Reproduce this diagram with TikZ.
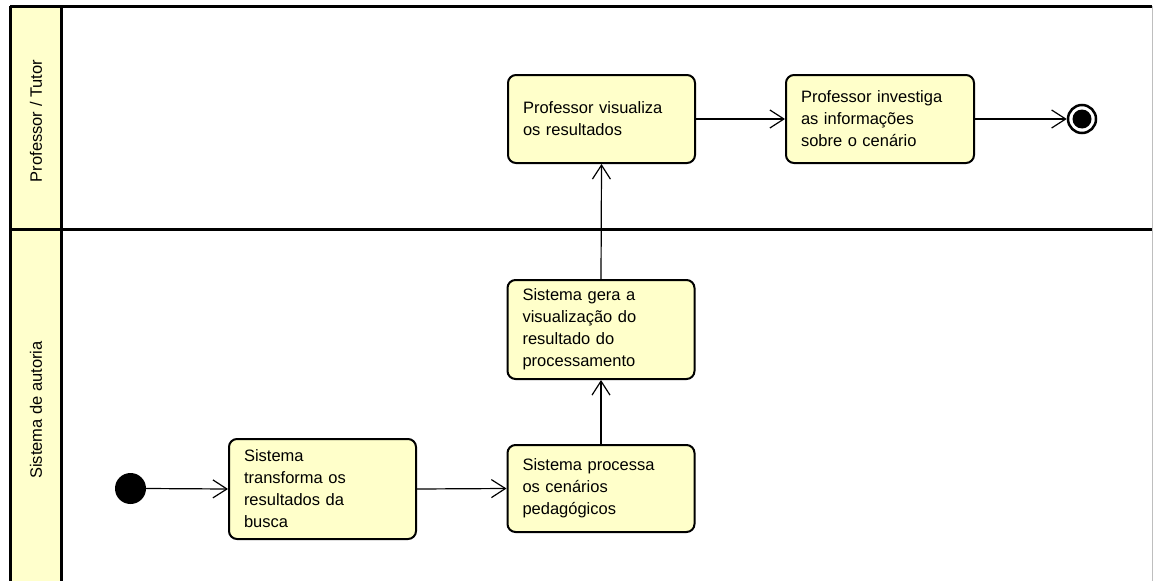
\documentclass[tikz,border=0pt]{standalone}
\usepackage{fontspec}
\setmainfont{Liberation Sans}
\usetikzlibrary{arrows.meta}
\definecolor{actfill}{RGB}{255,255,202}
\definecolor{lanefill}{RGB}{255,255,204}
\definecolor{edgegrey}{RGB}{190,190,190}
\begin{document}
\begin{tikzpicture}[x=1pt,y=-1pt,
  act/.style={draw=black, line width=2pt, fill=actfill, rounded corners=8pt,
    inner xsep=15pt, inner ysep=0pt, align=left,
    font=\fontsize{16.5}{22}\selectfont},
  lanelabel/.style={rotate=90, font=\fontsize{16.5}{20}\selectfont},
  flow/.style={line width=1.2pt, -{Straight Barb[length=14pt,width=18pt,line width=1.2pt]}},
  lanerule/.style={line width=3pt, black}
]
\useasboundingbox (0,0) rectangle (1153,581);
% lanes
\fill[lanefill] (10,6) rectangle (61,581);
\draw[edgegrey, line width=1pt] (1152,6) -- (1152,581);
\draw[lanerule] (10,6) -- (1152,6);
\draw[lanerule] (10,229) -- (1152,229);
\draw[lanerule] (10,6) -- (10,581);
\draw[lanerule] (61,6) -- (61,581);
\node[lanelabel] (l1) at (36,121) {Professor / Tutor};
\node[lanelabel] (l2) at (36,410) {Sistema de autoria};
% nodes
\fill (130.5,488.5) circle (15.5);
\coordinate (init) at (130.5,488.5);
\node[act, minimum width=187pt, minimum height=100pt, text width=157pt] (trans) at (322.5,489) {Sistema\\transforma os\\resultados da\\busca};
\node[act, minimum width=187pt, minimum height=87pt, text width=157pt] (proc) at (601,488.5) {Sistema processa\\os cenários\\pedagógicos};
\node[act, minimum width=187pt, minimum height=99pt, text width=157pt] (gera) at (601,329.5) {Sistema gera a\\visualização do\\resultado do\\processamento};
\node[act, minimum width=187pt, minimum height=88pt, text width=157pt] (vis) at (601.5,119) {Professor visualiza\\os resultados};
\node[act, minimum width=188pt, minimum height=88pt, text width=158pt] (inv) at (880,119) {Professor investiga\\as informações\\sobre o cenário};
\node[circle, draw=black, line width=2.5pt, fill=white, minimum size=28pt, inner sep=0pt] (fin) at (1082,119) {};
\fill (1082,119) circle (9.5);
% flows
\draw[flow] (init) ++(15.5,0) -- (trans.west);
\draw[flow] (trans.east) -- (proc.west);
\draw[flow] (proc.north) -- (gera.south);
\draw[flow] (gera.north) -- (vis.south);
\draw[flow] (vis.east) -- (inv.west);
\draw[flow] (inv.east) -- (fin.west);
\end{tikzpicture}
\end{document}
